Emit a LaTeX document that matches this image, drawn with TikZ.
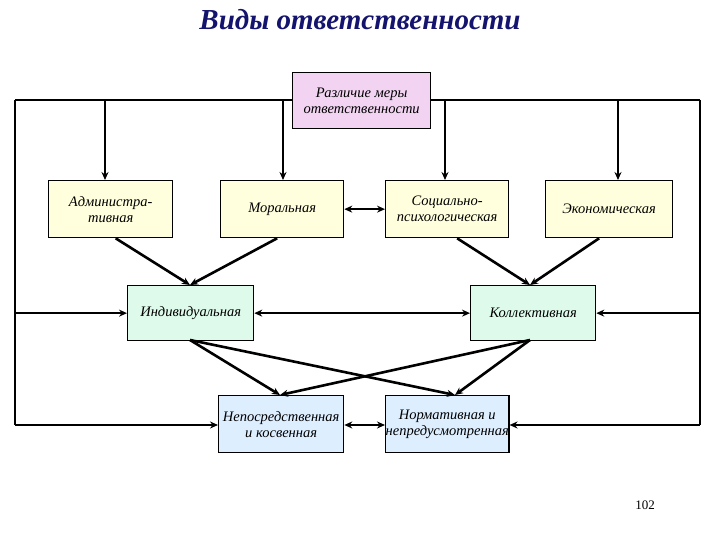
\documentclass[tikz,border=0pt]{standalone}
\usepackage{fontspec}
\setmainfont{Liberation Serif}
\usetikzlibrary{arrows.meta}
\begin{document}
\begin{tikzpicture}[x=1pt,y=-1pt,
  box/.style={draw=black,line width=1.3pt,anchor=north west,inner sep=0pt,align=center,font=\itshape\fontsize{14.5}{16}\selectfont},
  conn/.style={line width=2.6pt,-{Stealth[length=8pt,width=7pt]}},
  dconn/.style={line width=2.6pt,{Stealth[length=8pt,width=7pt]}-{Stealth[length=8pt,width=7pt]}},
  line/.style={line width=2.6pt}]
\useasboundingbox (0,0) rectangle (720,540);
\node[font=\bfseries\itshape\fontsize{29}{31}\selectfont,text={rgb,255:red,20;green,20;blue,110}] (title) at (360,20) {Виды ответственности};
\definecolor{pinkf}{RGB}{242,212,242}
\definecolor{yel}{RGB}{255,255,221}
\definecolor{grn}{RGB}{221,250,235}
\definecolor{blu}{RGB}{221,238,255}
\node[box,fill=pinkf,minimum width=138pt,minimum height=56pt] (top) at (292,72) {Различие меры\\ответственности};
\node[box,fill=yel,minimum width=124pt,minimum height=57pt] (adm) at (48,180) {Администра-\\тивная};
\node[box,fill=yel,minimum width=123pt,minimum height=57pt] (mor) at (220,180) {Моральная};
\node[box,fill=yel,minimum width=123pt,minimum height=57pt] (soc) at (385,180) {Социально-\\психологическая};
\node[box,fill=yel,minimum width=127pt,minimum height=57pt] (eco) at (545,180) {Экономическая};
\node[box,fill=grn,minimum width=126pt,minimum height=55pt] (ind) at (127,285) {Индивидуальная};
\node[box,fill=grn,minimum width=125pt,minimum height=55pt] (kol) at (470,285) {Коллективная};
\node[box,fill=blu,minimum width=125pt,minimum height=57pt] (nep) at (218,395) {Непосредственная\\и косвенная};
\node[box,fill=blu,minimum width=123pt,minimum height=57pt] (nor) at (385,395) {Нормативная и\\непредусмотренная};
\node[font=\fontsize{13}{14}\selectfont] (pg) at (645,505) {102};
\coordinate (L) at (15,100); \coordinate (R) at (700,100);
\draw[line] (top.west |- L) -- (L);
\draw[line] (top.east |- R) -- (R);
\draw[conn] (105,100) -- (adm.north -| 105,0);
\draw[conn] (283,100) -- (mor.north -| 283,0);
\draw[conn] (445,100) -- (soc.north -| 445,0);
\draw[conn] (618,100) -- (eco.north -| 618,0);
\draw[dconn] (mor.east) -- (soc.west);
\draw[conn] (adm.south) ++(5,0) -- (190,285);
\draw[conn] (mor.south) ++(-5,0) -- (190,285);
\draw[conn] (soc.south) ++(10,0) -- (530,285);
\draw[conn] (eco.south) ++(-10,0) -- (530,285);
\draw[dconn] (ind.east) -- (kol.west);
\draw[line] (L) -- (15,425);
\draw[line] (R) -- (700,425);
\draw[conn] (15,0 |- ind.west) -- (ind.west);
\draw[conn] (700,0 |- kol.east) -- (kol.east);
\draw[conn] (15,425) -- (nep.west |- 0,425);
\draw[conn] (700,425) -- (nor.east |- 0,425);
\draw[dconn] (nep.east |- 0,425) -- (nor.west |- 0,425);
\draw[conn] (190,340) -- (280,395);
\draw[conn] (190,340) -- (455,395);
\draw[conn] (530,340) -- (280,395);
\draw[conn] (530,340) -- (455,395);
\end{tikzpicture}
\end{document}
